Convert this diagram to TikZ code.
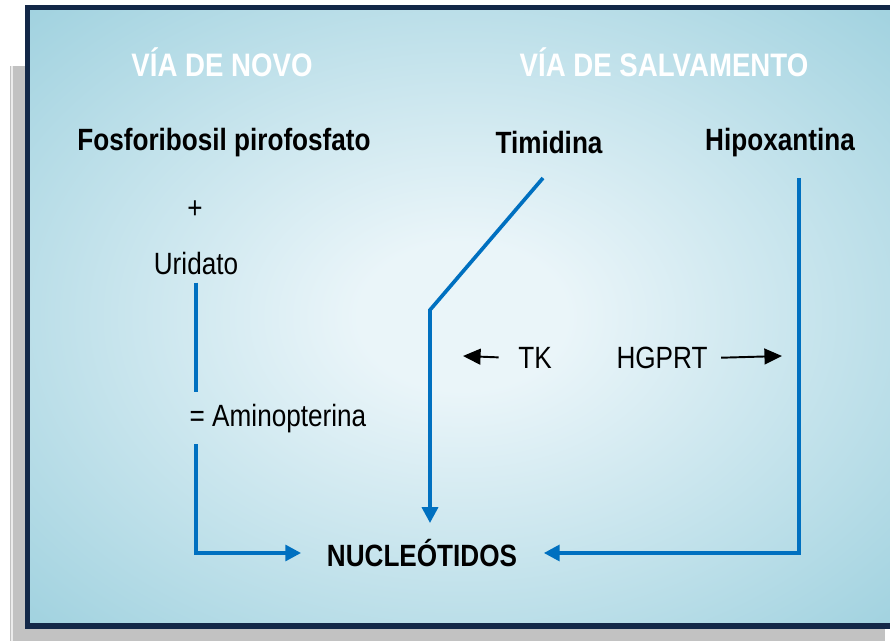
\documentclass[tikz,border=0pt]{standalone}
\usepackage{fontspec}
\setmainfont{Liberation Sans}[FakeStretch=0.85]
\usetikzlibrary{arrows.meta}

\definecolor{marco}{RGB}{19,40,72}
\definecolor{sombra}{RGB}{194,194,194}
\definecolor{azul}{RGB}{0,112,192}
\definecolor{fondoin}{RGB}{234,245,249}
\definecolor{fondoout}{RGB}{140,200,216}
\pgfdeclareradialshading{fondo}{\pgfpoint{0bp}{0bp}}{color(0bp)=(fondoin); color(6bp)=(fondoin); color(44bp)=(fondoout); color(50bp)=(fondoout)}

\begin{document}
\begin{tikzpicture}[x=0.02cm, y=-0.02cm,
    every node/.style={inner sep=2pt, font=\fontsize{17.5}{20}\selectfont},
    titulo/.style={text=white, font=\fontsize{18.5}{22}\selectfont\bfseries},
    negrita/.style={font=\fontsize{17.5}{20}\selectfont\bfseries},
    flujo/.style={draw=azul, line width=2.1pt},
    flecha/.style={flujo, -{Triangle[length=9pt,width=9pt]}},
    enzima/.style={draw=black, line width=1.1pt, -{Triangle[length=10pt,width=9pt]}}]
    \path[use as bounding box, clip] (0,0) rectangle (890,641);

    % 阴影与边框
    \fill[sombra] (10,66) rectangle (885,641);
    \draw[gray!15, line width=0.6pt] (12,66) -- (12,641);
    \path[shading=fondo] (30,10) rectangle (895,623);
    \draw[marco, line width=2.9pt] (27.5,7.5) rectangle (900,626);

    % 标题
    \node[titulo] (novo) at (222,62) {VÍA DE NOVO};
    \node[titulo] (salv) at (664,62) {VÍA DE SALVAMENTO};

    % 底物
    \node[negrita] (prpp) at (224,143) {Fosforibosil pirofosfato};
    \node[negrita] (timid) at (549,143) {Timidina};
    \node[negrita] (hipo) at (780,143) {Hipoxantina};
    \node (mas) at (195,210) {+};
    \node (urid) at (196,264) {Uridato};
    \node (amino) at (278,419) {= Aminopterina};
    \node (tk) at (535,358) {TK};
    \node (hgprt) at (662,358) {HGPRT};
    \node[negrita] (nuc) at (422,553) {NUCLEÓTIDOS};

    \coordinate (tini) at (543,178);
    \coordinate (tcodo) at (430,310);
    \coordinate (hini) at (799,178);
    \coordinate (tkfin) at (463,356);
    \coordinate (hgfin) at (782,356);

    % 左侧通路
    \draw[flujo, shorten <=2pt, shorten >=5pt] (urid.south) -- (urid.south |- amino.north);
    \draw[flecha, shorten <=4pt, shorten >=12.5pt] (urid.south |- amino.south) |- (nuc.west);

    % 右侧通路
    \draw[flecha, shorten >=7pt] (tini) -- (tcodo) -- (tcodo |- nuc.north);
    \draw[flecha, shorten >=13pt] (hini) |- (nuc.east);

    % 酶
    \draw[enzima, shorten <=9pt] (tk.west) -- (tkfin);
    \draw[enzima, shorten <=5.5pt] (hgprt.east) -- (hgfin);
\end{tikzpicture}
\end{document}
